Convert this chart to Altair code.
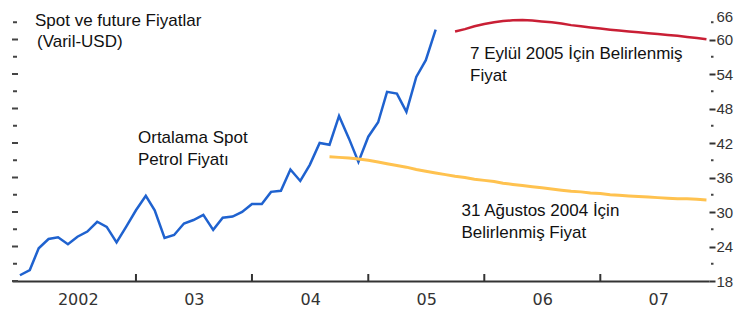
import altair as alt
import pandas as pd

# ---- data ----
spot_start = "2002-01-01"
spot_values = [19.0, 19.9, 23.7, 25.3, 25.6, 24.4, 25.7, 26.6, 28.3, 27.4, 24.7, 27.4,
               30.3, 32.8, 30.3, 25.5, 26.0, 28.0, 28.6, 29.5, 26.9, 29.0, 29.2, 30.0,
               31.4, 31.4, 33.5, 33.7, 37.4, 35.4, 38.2, 42.0, 41.7, 46.7, 42.8, 38.7,
               43.1, 45.6, 50.9, 50.6, 47.4, 53.5, 56.4, 61.7]

fut2004_start = "2004-09-01"
fut2004_values = [39.6, 39.5, 39.4, 39.2, 39.0, 38.7, 38.4, 38.1, 37.8, 37.4,
                  37.1, 36.8, 36.5, 36.2, 36.0, 35.7, 35.5, 35.3, 35.0, 34.8,
                  34.6, 34.4, 34.2, 34.0, 33.8, 33.6, 33.5, 33.3, 33.2, 33.0,
                  32.9, 32.8, 32.7, 32.6, 32.5, 32.4, 32.3, 32.3, 32.2, 32.1]

fut2005_start = "2005-10-01"
fut2005_values = [61.4, 61.8, 62.3, 62.7, 63.0, 63.2, 63.35, 63.4, 63.3, 63.15,
                  63.0, 62.8, 62.5, 62.3, 62.1, 61.9, 61.7, 61.55, 61.4, 61.25,
                  61.1, 60.95, 60.8, 60.65, 60.45, 60.25, 60.05]

years = [2002, 2003, 2004, 2005, 2006, 2007]
year_tick_years = [2003, 2004, 2005, 2006, 2007]
y_major = [18, 24, 30, 36, 42, 48, 54, 60, 66]
y_minor = [21, 27, 33, 39, 45, 51, 57, 63]

title_lines = ["Spot ve future Fiyatlar", "(Varil-USD)"]
spot_label = ["Ortalama Spot", "Petrol Fiyatı"]
fut2005_label = ["7 Eylül 2005 İçin Belirlenmiş", "Fiyat"]
fut2004_label = ["31 Ağustos 2004 İçin", "Belirlenmiş Fiyat"]

# ---- tables ----
def series_df(start, vals):
    return pd.DataFrame({"date": pd.date_range(start, periods=len(vals), freq="MS"),
                         "value": vals})

spot_df = series_df(spot_start, spot_values)
f04_df = series_df(fut2004_start, fut2004_values)
f05_df = series_df(fut2005_start, fut2005_values)
ytick_df = pd.DataFrame({"date": [pd.Timestamp(year=y, month=1, day=1) for y in year_tick_years]})
major_df = pd.DataFrame({"value": y_major})
minor_df = pd.DataFrame({"value": y_minor})

W, H = 697, 276
AX = "#333333"
x_scale = alt.Scale(domain=[alt.DateTime(year=2001, month=12, date=7),
                            alt.DateTime(year=2007, month=12, date=9)])
y_scale = alt.Scale(domain=[18, 66], nice=False, zero=False)
top_val = max(y_major)

x_axis = alt.Axis(
    values=[alt.DateTime(year=y, month=7, date=2) for y in years],
    labelExpr="year(datum.value) == 2002 ? '2002' : timeFormat(datum.value, '%y')",
    ticks=False, tickSize=0, grid=False, domainColor=AX, domainWidth=2,
    labelFont="DejaVu Sans", labelFontSize=16, labelColor=AX, labelPadding=10,
    title=None, labelFlush=False, labelOverlap=False)
y_axis = alt.Axis(
    orient="right", values=y_major, tickSize=6, tickWidth=2, tickColor=AX,
    domain=False, grid=False, labelFont="Liberation Sans", labelFontSize=15,
    labelColor=AX, labelPadding=1, title=None, labelBound=False,
    labelOverlap=False, labelFlush=False,
    labelBaseline={"condition": {"test": f"datum.value == {top_val}", "value": "top"},
                   "value": "middle"},
    labelOffset={"condition": {"test": f"datum.value == {top_val}", "value": 4},
                 "value": 0})

X = alt.X("date:T", scale=x_scale, axis=x_axis)
Y = alt.Y("value:Q", scale=y_scale, axis=y_axis)

spot = alt.Chart(spot_df).mark_line(color="#1f62cf", strokeWidth=2.5).encode(x=X, y=Y)
f04 = alt.Chart(f04_df).mark_line(color="#ffc24f", strokeWidth=3).encode(x=X, y=Y)
f05 = alt.Chart(f05_df).mark_line(color="#c91f35", strokeWidth=2.5).encode(x=X, y=Y)

yticks = alt.Chart(ytick_df).mark_rule(color=AX, strokeWidth=2).encode(
    x=X, y=alt.value(H - 7), y2=alt.value(H))

left_major = alt.Chart(major_df).mark_rule(color="#444444", strokeWidth=2).encode(
    y=Y, x=alt.value(0), x2=alt.value(6))
left_minor = alt.Chart(minor_df).mark_rule(color="#444444", strokeWidth=2).encode(
    y=Y, x=alt.value(1), x2=alt.value(5))
right_minor = alt.Chart(minor_df).mark_rule(color="#444444", strokeWidth=2).encode(
    y=Y, x=alt.value(W + 2), x2=alt.value(W + 4.5))

def label(text, px, py):
    return alt.Chart(pd.DataFrame({"t": [text]})).mark_text(
        align="left", baseline="alphabetic", font="Liberation Sans", fontSize=17,
        color="#111111").encode(text="t:N", x=alt.value(px), y=alt.value(py))

texts = [
    label(title_lines[0], 23, 20.5), label(title_lines[1], 25, 41.5),
    label(spot_label[0], 126, 137.5), label(spot_label[1], 126, 159.5),
    label(fut2005_label[0], 458, 53.5), label(fut2005_label[1], 458, 76),
    label(fut2004_label[0], 449.5, 210.5), label(fut2004_label[1], 449.5, 233),
]

chart = alt.layer(spot, f04, f05, yticks, left_major, left_minor, right_minor, *texts).properties(
    width=W, height=H,
    autosize=alt.AutoSizeParams(type="none"),
    padding={"left": 4, "top": -3, "right": 25, "bottom": 26},
    background="white",
).configure_view(stroke=None)

chart.save("out.html", embed_options={"renderer": "svg", "actions": False})
